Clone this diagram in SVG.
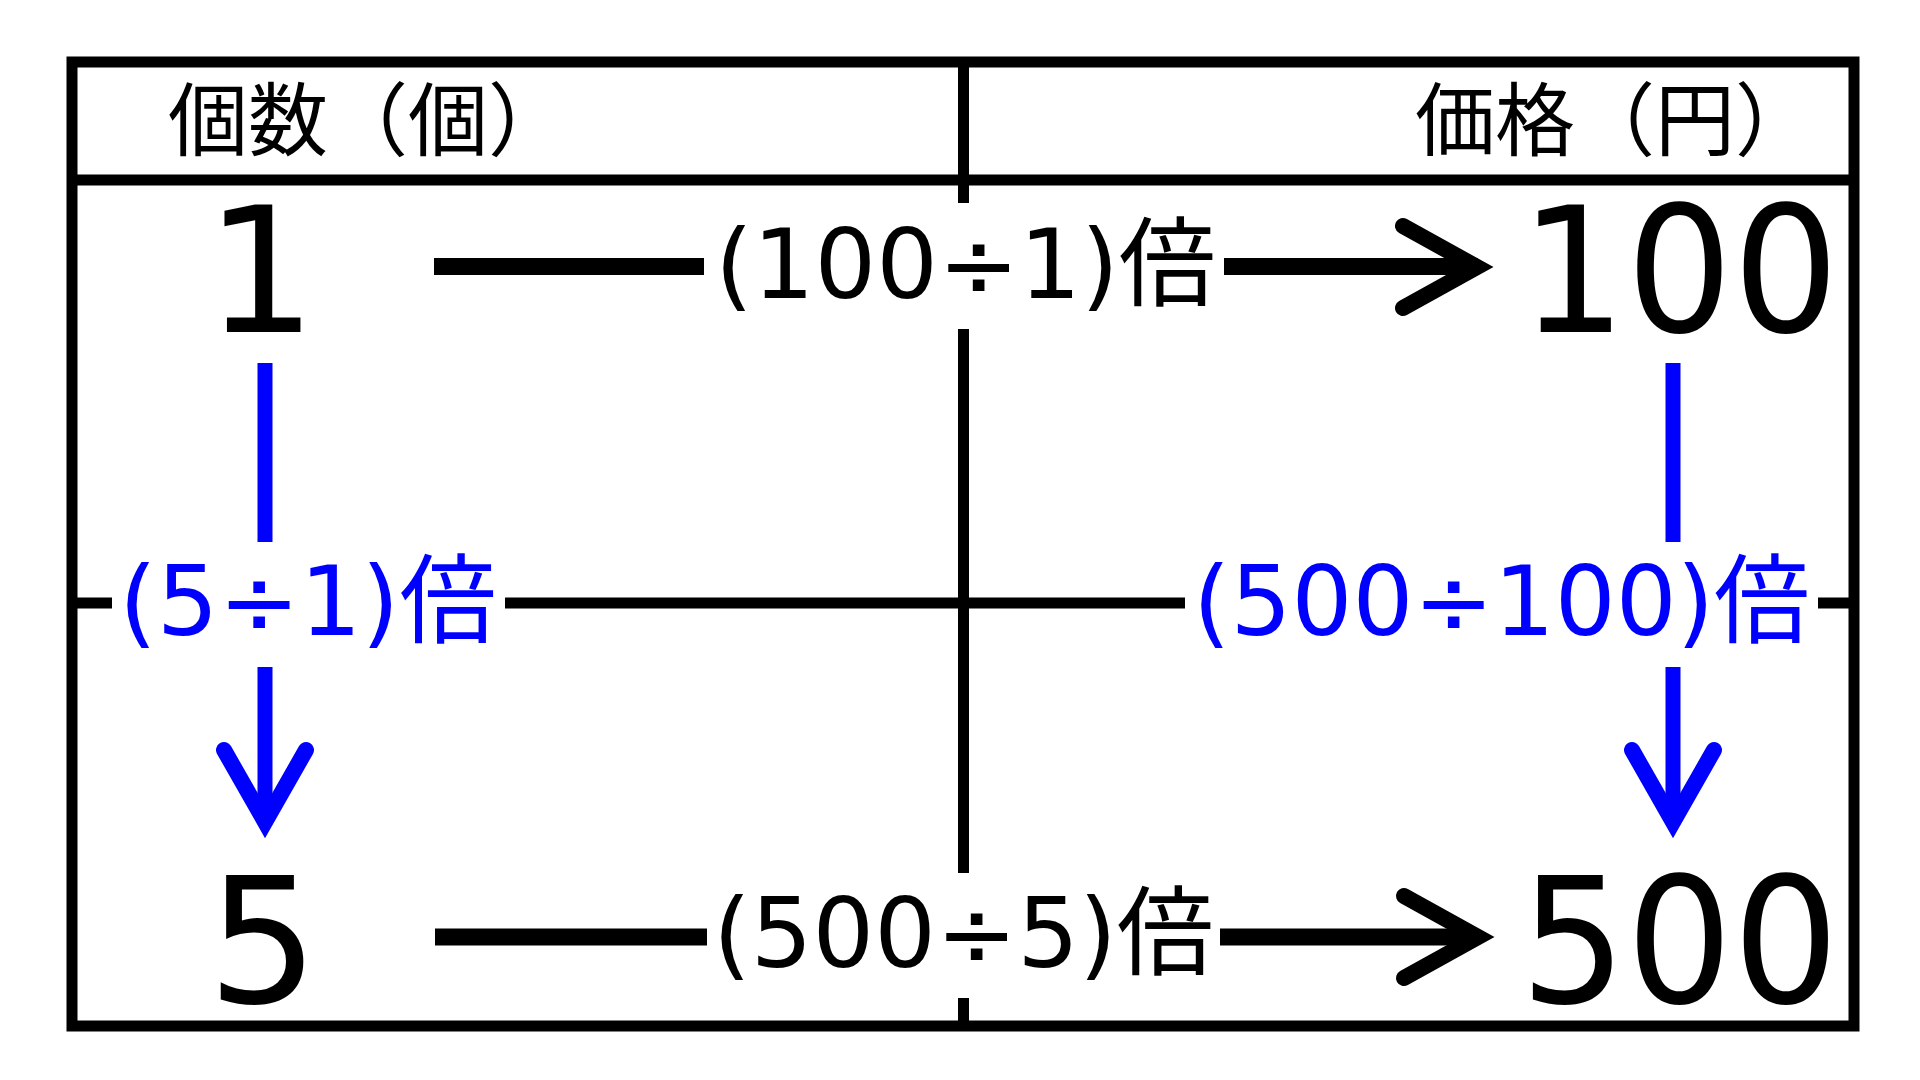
<svg xmlns="http://www.w3.org/2000/svg" width="1920" height="1080" viewBox="0 0 1920 1080">
  <style>
    .grid { stroke: #000; stroke-width: 11; fill: none; }
    .shaft { stroke: #000; stroke-width: 17; fill: none; }
    .head { stroke: #000; stroke-width: 16; fill: none; stroke-linecap: round; stroke-linejoin: miter; stroke-miterlimit: 10; }
    .bshaft { stroke: #0000FF; stroke-width: 15; fill: none; }
    .bhead { stroke: #0000FF; stroke-width: 16; fill: none; stroke-linecap: round; stroke-linejoin: miter; stroke-miterlimit: 10; }
    .hdr { font-family: "Noto Sans CJK JP", "DejaVu Sans", sans-serif; font-size: 80px; fill: #000; }
    .big { font-family: "DejaVu Sans", "Noto Sans CJK JP", sans-serif; font-size: 175px; fill: #000; }
    .lbl { font-family: "DejaVu Sans", "Noto Sans CJK JP", sans-serif; font-size: 97px; fill: #000; }
    .blbl { font-family: "DejaVu Sans", "Noto Sans CJK JP", sans-serif; font-size: 97px; fill: #0000FF; }
  </style>
  <rect width="1920" height="1080" fill="#fff"/>
  <g id="table">
    <rect class="grid" x="72" y="62" width="1782" height="964"/>
    <line class="grid" x1="72" y1="180" x2="1854" y2="180"/>
    <line class="grid" x1="963.5" y1="62" x2="963.5" y2="203"/>
    <line class="grid" x1="963.5" y1="329" x2="963.5" y2="873"/>
    <line class="grid" x1="963.5" y1="998" x2="963.5" y2="1026"/>
    <line class="grid" x1="72" y1="603" x2="112" y2="603"/>
    <line class="grid" x1="505" y1="603" x2="1185" y2="603"/>
    <line class="grid" x1="1818" y1="603" x2="1854" y2="603"/>
  </g>
  <g id="header-count"><text class="hdr" x="168" y="149">個数（個）</text></g>
  <g id="header-price"><text class="hdr" x="1415" y="149">価格（円）</text></g>
  <g id="node-1"><text class="big" x="261" y="332" text-anchor="middle">1</text></g>
  <g id="node-100" transform="translate(1839,0) scale(0.955,1)"><text class="big" x="0" y="332" text-anchor="end">100</text></g>
  <g id="node-5"><text class="big" x="263" y="1003" text-anchor="middle">5</text></g>
  <g id="node-500" transform="translate(1839,0) scale(0.955,1)"><text class="big" x="0" y="1003" text-anchor="end">500</text></g>
  <g id="connectors">
    <line class="shaft" x1="434" y1="266.5" x2="704" y2="266.5"/>
    <line class="shaft" x1="1224" y1="266.5" x2="1478" y2="266.5"/>
    <polyline class="head" points="1403,226 1477,267 1403,308"/>
    <line class="shaft" x1="435" y1="937" x2="707" y2="937"/>
    <line class="shaft" x1="1220" y1="937" x2="1478" y2="937"/>
    <polyline class="head" points="1404,896 1478,937 1404,978"/>
    <line class="bshaft" x1="265" y1="363" x2="265" y2="542"/>
    <line class="bshaft" x1="265" y1="667" x2="265" y2="824"/>
    <polyline class="bhead" points="224,750 265,822 306,750"/>
    <line class="bshaft" x1="1673" y1="363" x2="1673" y2="542"/>
    <line class="bshaft" x1="1673" y1="667" x2="1673" y2="824"/>
    <polyline class="bhead" points="1632,750 1673,822 1714,750"/>
  </g>
  <g id="label-top"><text class="lbl" x="715" y="298">(100÷1)倍</text></g>
  <g id="label-bottom"><text class="lbl" x="713" y="967">(500÷5)倍</text></g>
  <g id="label-left"><text class="blbl" x="119" y="635">(5÷1)倍</text></g>
  <g id="label-right"><text class="blbl" x="1193" y="635" textLength="617" lengthAdjust="spacingAndGlyphs">(500÷100)倍</text></g>
</svg>
